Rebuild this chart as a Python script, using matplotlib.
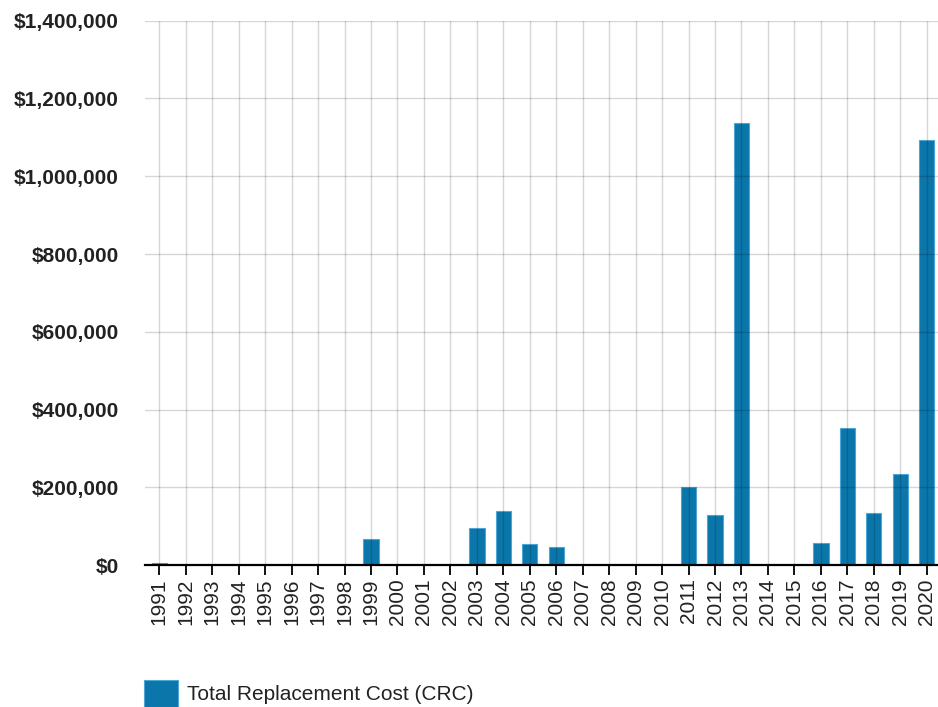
import matplotlib
matplotlib.use("Agg")
import matplotlib.pyplot as plt
from matplotlib.ticker import FuncFormatter

plt.rcParams['font.family'] = ['Liberation Sans', 'DejaVu Sans']

years = [str(y) for y in range(1991, 2021)]
replacement_cost = [
    6500, 0, 0, 0, 0, 0, 0, 0, 68000, 0,
    0, 0, 95000, 140000, 54000, 48000, 0, 0, 0, 0,
    202000, 130000, 1136000, 0, 0, 58000, 352000, 135000, 234000, 1094000,
]
series_label = "Total Replacement Cost (CRC)"
y_ticks = [0, 200000, 400000, 600000, 800000, 1000000, 1200000, 1400000]

bar_color = "#0b76aa"
edge_color = "#4fa6d6"
text_color = "#222222"

fig = plt.figure(figsize=(9.38, 7.07), dpi=100)
ax = fig.add_axes([0.1546, 0.2006, 0.8486, 0.7701])

x = list(range(len(years)))
bars = ax.bar(x, replacement_cost, width=0.58, color=bar_color,
              edgecolor=edge_color, linewidth=0.8, label=series_label, zorder=1)

ax.set_xlim(-0.54, len(years) - 1 + 0.54)
ax.set_ylim(0, 1400000)
ax.set_yticks(y_ticks)
ax.yaxis.set_major_formatter(FuncFormatter(lambda v, p: "${:,.0f}".format(v)))
ax.set_xticks(x)
ax.set_xticklabels(years, rotation=90, va="top", ha="center")

# gridlines drawn over the bars with partial transparency
ax.set_axisbelow(False)
ax.grid(True, color="black", alpha=0.16, linewidth=1.0, zorder=2)

for side in ("left", "right", "top"):
    ax.spines[side].set_visible(False)
ax.spines["bottom"].set_color("black")
ax.spines["bottom"].set_linewidth(1.6)
ax.spines["bottom"].set_zorder(3)

ax.tick_params(axis="x", length=7.5, width=1.3, color="black", pad=2,
               labelsize=15, labelcolor=text_color)
ax.tick_params(axis="y", length=0, pad=19, labelsize=15, labelcolor=text_color)
for lbl in ax.get_yticklabels():
    lbl.set_fontweight("bold")

fig.legend(handles=[bars], labels=[series_label], loc="center left",
           bbox_to_anchor=(0.1535, 0.019), frameon=False, fontsize=15,
           handlelength=1.63, handleheight=1.63, handletextpad=0.45,
           borderpad=0, borderaxespad=0, labelcolor=text_color)

fig.savefig("out.png", dpi=100)
